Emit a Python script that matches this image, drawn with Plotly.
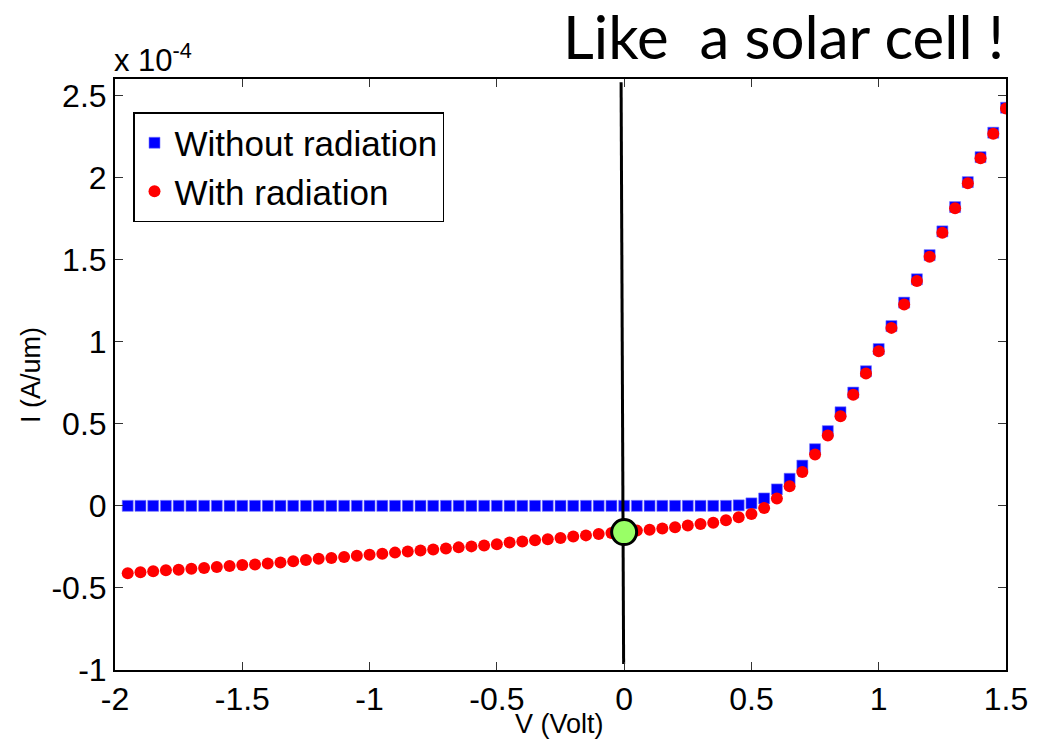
import plotly.graph_objects as go

# Voltage (V)
V = [-1.95, -1.90, -1.85, -1.80, -1.75, -1.70, -1.65, -1.60, -1.55, -1.50,
     -1.45, -1.40, -1.35, -1.30, -1.25, -1.20, -1.15, -1.10, -1.05, -1.00,
     -0.95, -0.90, -0.85, -0.80, -0.75, -0.70, -0.65, -0.60, -0.55, -0.50,
     -0.45, -0.40, -0.35, -0.30, -0.25, -0.20, -0.15, -0.10, -0.05, 0.00,
     0.05, 0.10, 0.15, 0.20, 0.25, 0.30, 0.35, 0.40, 0.45, 0.50,
     0.55, 0.60, 0.65, 0.70, 0.75, 0.80, 0.85, 0.90, 0.95, 1.00,
     1.05, 1.10, 1.15, 1.20, 1.25, 1.30, 1.35, 1.40, 1.45, 1.50]

# Current, units of 1e-4 A/um
I_without = [0.0, 0.0, 0.0, 0.0, 0.0, 0.0, 0.0, 0.0, 0.0, 0.0,
             0.0, 0.0, 0.0, 0.0, 0.0, 0.0, 0.0, 0.0, 0.0, 0.0,
             0.0, 0.0, 0.0, 0.0, 0.0, 0.0, 0.0, 0.0, 0.0, 0.0,
             0.0, 0.0, 0.0, 0.0, 0.0, 0.0, 0.0, 0.0, 0.0, 0.0,
             0.0, 0.0, 0.0, 0.0, 0.0, 0.0, 0.0, 0.0, 0.003, 0.015,
             0.045, 0.100, 0.165, 0.245, 0.345, 0.455, 0.570, 0.690, 0.820, 0.955,
             1.095, 1.238, 1.380, 1.527, 1.672, 1.820, 1.972, 2.124, 2.273, 2.425]

I_with = [-0.410, -0.404, -0.399, -0.393, -0.389, -0.383, -0.379, -0.373, -0.367, -0.361,
          -0.357, -0.351, -0.345, -0.337, -0.330, -0.323, -0.318, -0.311, -0.304, -0.298,
          -0.292, -0.285, -0.278, -0.272, -0.266, -0.260, -0.253, -0.247, -0.241, -0.234,
          -0.224, -0.217, -0.210, -0.203, -0.196, -0.187, -0.180, -0.172, -0.165, -0.158,
          -0.151, -0.145, -0.138, -0.130, -0.120, -0.111, -0.103, -0.088, -0.070, -0.050,
          -0.013, 0.044, 0.119, 0.206, 0.312, 0.428, 0.546, 0.676, 0.806, 0.942,
          1.084, 1.227, 1.369, 1.517, 1.663, 1.812, 1.965, 2.117, 2.267, 2.420]

# Vertical marker line at V = 0 and operating point
line_V = [-0.012, -0.002]
line_I = [2.58, -0.963]
point_V = [0.0]
point_I = [-0.16]

x_ticks = [-2, -1.5, -1, -0.5, 0, 0.5, 1, 1.5]
x_ticktext = ["-2", "-1.5", "-1", "-0.5", "0", "0.5", "1", "1.5"]
y_ticks = [-1, -0.5, 0, 0.5, 1, 1.5, 2, 2.5]
y_ticktext = ["-1", "-0.5", "0", "0.5", "1", "1.5", "2", "2.5"]

FONT = "Liberation Sans, Arial, sans-serif"

fig = go.Figure()
fig.add_trace(go.Scatter(
    x=V, y=I_without, mode="markers", name="Without radiation",
    marker=dict(symbol="square", size=11, color="rgb(0,0,255)",
                line=dict(width=0.6, color="rgb(120,120,255)"))))
fig.add_trace(go.Scatter(
    x=V, y=I_with, mode="markers", name="With radiation",
    marker=dict(symbol="circle", size=12, color="rgb(255,0,0)")))
fig.add_trace(go.Scatter(
    x=line_V, y=line_I, mode="lines", showlegend=False,
    line=dict(color="black", width=3)))
fig.add_trace(go.Scatter(
    x=point_V, y=point_I, mode="markers", showlegend=False,
    marker=dict(symbol="circle", size=25, color="rgb(153,255,102)",
                line=dict(width=3, color="black"))))

W, H = 1045, 741
ML, MR, MT, MB = 115, 39, 79, 71
PW = W - ML - MR
PH = H - MT - MB


def py(pix):
    return 1 - (pix - MT) / PH


def px(pix):
    return (pix - ML) / PW


fig.update_layout(
    width=W, height=H,
    margin=dict(l=ML, r=MR, t=MT, b=MB),
    paper_bgcolor="white", plot_bgcolor="white",
    font=dict(family=FONT, color="black"),
    showlegend=True,
    legend=dict(
        x=px(133), y=py(112), xanchor="left", yanchor="top",
        bgcolor="white", bordercolor="black", borderwidth=1.5,
        font=dict(family=FONT, size=35, color="black"),
        tracegroupgap=0, itemsizing="trace",
    ),
    xaxis=dict(
        range=[-2, 1.5], tickvals=x_ticks, ticktext=x_ticktext,
        showline=True, linecolor="black", linewidth=2, mirror="ticks",
        ticks="inside", ticklen=8, tickwidth=1, tickcolor="#333",
        showgrid=False, zeroline=False,
        tickfont=dict(family=FONT, size=32, color="black"),
    ),
    yaxis=dict(
        range=[-1, 2.6], tickvals=y_ticks, ticktext=y_ticktext,
        showline=True, linecolor="black", linewidth=2, mirror="ticks",
        ticks="inside", ticklen=8, tickwidth=1, tickcolor="#333",
        showgrid=False, zeroline=False,
        tickfont=dict(family=FONT, size=32, color="black"),
    ),
    annotations=[
        dict(text="Like\u00a0 a solar cell !", xref="paper", yref="paper",
             x=1, y=py(36), xanchor="right", yanchor="middle", showarrow=False,
             font=dict(family="Lato, Open Sans, sans-serif", size=60, color="black")),
        dict(text="x 10<sup>-4</sup>", xref="paper", yref="paper",
             x=0, y=py(58), xanchor="left", yanchor="middle", xshift=-3, showarrow=False,
             font=dict(family=FONT, size=31, color="black")),
        dict(text="V (Volt)", xref="paper", yref="paper",
             x=px(559), y=py(724), xanchor="center", yanchor="middle", showarrow=False,
             font=dict(family=FONT, size=27, color="black")),
        dict(text="I (A/um)", xref="paper", yref="paper",
             x=px(31), y=py(375), xanchor="center", yanchor="middle",
             textangle=-90, showarrow=False,
             font=dict(family=FONT, size=27, color="black")),
    ],
)

fig.write_html("out.html")
